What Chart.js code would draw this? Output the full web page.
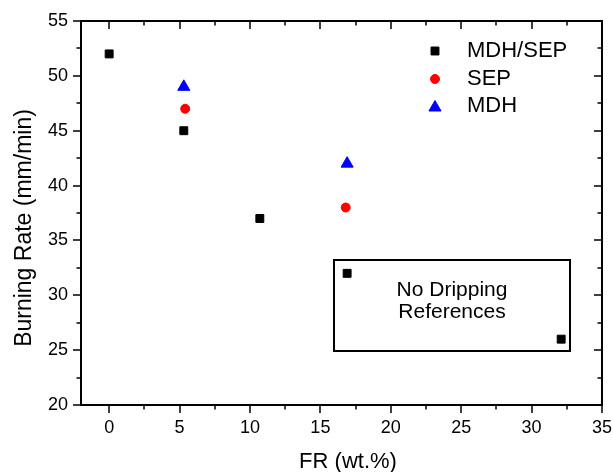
<!DOCTYPE html>
<html>
<head>
<meta charset="utf-8">
<script src="https://cdn.jsdelivr.net/npm/chart.js@4/dist/chart.umd.min.js"></script>
<style>
html,body{margin:0;padding:0;background:#fff;}
#wrap{width:613px;height:472px;position:relative;}
</style>
</head>
<body>
<div id="wrap"><canvas id="c" width="613" height="472"></canvas></div>
<script>
const seriesNames = ['MDH/SEP', 'SEP', 'MDH'];
const mdhSepX = [0, 5.3, 10.7, 16.9, 32.1];
const mdhSepY = [52, 45, 37, 32, 26];
const sepX = [5.4, 16.8];
const sepY = [47, 38];
const mdhX = [5.3, 16.9];
const mdhY = [49, 42];
const xTicks = [0, 5, 10, 15, 20, 25, 30, 35];
const yTicks = [20, 25, 30, 35, 40, 45, 50, 55];
const xTitle = 'FR (wt.%)';
const yTitle = 'Burning Rate (mm/min)';
const noteLines = ['No Dripping', 'References'];

const FONT = '"Liberation Sans", Arial, sans-serif';
const toPts = (xs, ys) => xs.map((x, i) => ({x, y: ys[i]}));

const styles = [
  {pointStyle: 'rect', color: '#000000', radius: 5.6},
  {pointStyle: 'circle', color: '#ff0000', radius: 4.5},
  {pointStyle: 'triangle', color: '#0000ff', radius: 7}
];
const allData = [toPts(mdhSepX, mdhSepY), toPts(sepX, sepY), toPts(mdhX, mdhY)];

const decor = {
  id: 'decor',
  afterDraw(chart) {
    const ctx = chart.ctx;
    const xs = chart.scales.x, ys = chart.scales.y;
    const L0 = xs.getPixelForValue(-2), R0 = xs.getPixelForValue(35);
    const T0 = ys.getPixelForValue(55), B0 = ys.getPixelForValue(20);
    ctx.save();
    ctx.fillStyle = '#000';
    // frame as filled bars
    ctx.fillRect(L0 - 1, T0 - 1, R0 - L0 + 2, 2);
    ctx.fillRect(L0 - 1, B0 - 1, R0 - L0 + 2, 2);
    ctx.fillRect(L0 - 1, T0 - 1, 2, B0 - T0 + 2);
    ctx.fillRect(R0 - 1, T0 - 1, 2, B0 - T0 + 2);
    for (let i = 0; i <= 15; i++) {
      const v = -2.5 + i * 2.5;
      if (v < -2) continue;
      const px = Math.round(xs.getPixelForValue(v));
      const L = (i % 2 === 1) ? 8 : 4.5;
      ctx.fillRect(px - 0.75, B0, 1.5, L);
      ctx.fillRect(px - 0.75, T0, 1.5, L);
    }
    for (let i = 0; i <= 14; i++) {
      const v = 20 + i * 2.5;
      const py = Math.round(ys.getPixelForValue(v));
      const L = (i % 2 === 0) ? 8 : 4.5;
      ctx.fillRect(L0 - L, py - 0.75, L, 1.5);
      ctx.fillRect(R0 - L, py - 0.75, L, 1.5);
    }
    // titles
    ctx.fillStyle = '#000';
    ctx.font = '22px ' + FONT;
    ctx.textAlign = 'center';
    ctx.textBaseline = 'middle';
    ctx.fillText(xTitle, 348, 462);
    ctx.save();
    ctx.font = '23px ' + FONT;
    ctx.translate(25, 228);
    ctx.rotate(-Math.PI / 2);
    ctx.fillText(yTitle, 0, 0);
    ctx.restore();
    // legend
    ctx.font = '22px ' + FONT;
    ctx.textAlign = 'left';
    const legY = [51, 79, 106];
    seriesNames.forEach((n, i) => {
      const s = styles[i];
      ctx.fillStyle = s.color;
      ctx.strokeStyle = s.color;
      ctx.lineWidth = 1;
      Chart.helpers.drawPoint(ctx, {pointStyle: s.pointStyle, radius: s.radius, borderWidth: 1}, 435, legY[i] + (i === 2 ? 1.5 : 0));
      ctx.fillStyle = '#000';
      ctx.fillText(n, 467, legY[i]);
    });
    // note box
    const bx1 = Math.round(xs.getPixelForValue(16)), bx2 = Math.round(xs.getPixelForValue(32.7));
    const by1 = Math.round(ys.getPixelForValue(33.2)), by2 = Math.round(ys.getPixelForValue(24.9));
    ctx.fillStyle = '#000';
    ctx.fillRect(bx1 - 1, by1 - 1, bx2 - bx1 + 2, 2);
    ctx.fillRect(bx1 - 1, by2 - 1, bx2 - bx1 + 2, 2);
    ctx.fillRect(bx1 - 1, by1 - 1, 2, by2 - by1 + 2);
    ctx.fillRect(bx2 - 1, by1 - 1, 2, by2 - by1 + 2);
    ctx.font = '21px ' + FONT;
    ctx.textAlign = 'center';
    const cx = (bx1 + bx2) / 2;
    ctx.fillText(noteLines[0], cx, 290);
    ctx.fillText(noteLines[1], cx, 312);
    ctx.restore();
  }
};

new Chart(document.getElementById('c'), {
  type: 'scatter',
  data: {
    datasets: allData.map((d, i) => ({
      label: seriesNames[i],
      data: d,
      pointStyle: styles[i].pointStyle,
      pointRadius: styles[i].radius,
      pointHoverRadius: styles[i].radius,
      backgroundColor: styles[i].color,
      borderColor: styles[i].color,
      borderWidth: 1,
      showLine: false
    }))
  },
  options: {
    responsive: false,
    animation: false,
    events: [],
    layout: {padding: {left: 0, top: 21, right: 11, bottom: 0}},
    plugins: {legend: {display: false}, tooltip: {enabled: false}},
    scales: {
      x: {
        type: 'linear', min: -2, max: 35,
        afterBuildTicks: s => { s.ticks = xTicks.map(v => ({value: v})); },
        afterFit: s => { s.height = 67; s.paddingLeft = 0; s.paddingRight = 0; },
        grid: {display: false, drawTicks: false},
        border: {display: false},
        ticks: {color: '#000', font: {family: FONT, size: 18}, padding: 12, maxRotation: 0, autoSkip: false}
      },
      y: {
        type: 'linear', min: 20, max: 55,
        afterBuildTicks: s => { s.ticks = yTicks.map(v => ({value: v})); },
        afterFit: s => { s.width = 81; s.paddingTop = 0; s.paddingBottom = 0; },
        grid: {display: false, drawTicks: false},
        border: {display: false},
        ticks: {color: '#000', font: {family: FONT, size: 18}, padding: 13, autoSkip: false}
      }
    }
  },
  plugins: [decor]
});
</script>
</body>
</html>
